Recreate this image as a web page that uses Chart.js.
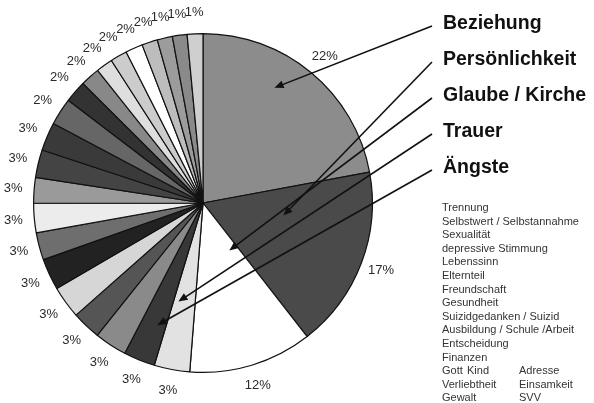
<!DOCTYPE html>
<html>
<head>
<meta charset="utf-8">
<script src="https://cdn.jsdelivr.net/npm/chart.js@4/dist/chart.umd.min.js"></script>
<style>
  body { margin: 0; background: #fff; }
  #wrap { position: relative; width: 594px; height: 403px; overflow: hidden; }
  #pie { position: absolute; left: 0; top: 0; }
  .big { position: absolute; left: 443px; font: bold 19.5px "Liberation Sans", Arial, sans-serif; color: #111; white-space: nowrap; line-height: 22px; }
  .small { position: absolute; left: 442px; font: 11px "Liberation Sans", Arial, sans-serif; color: #333; white-space: nowrap; line-height: 13px; }
  .small span { position: absolute; top: 0; }
</style>
</head>
<body>
<div id="wrap">
  <canvas id="pie" width="594" height="403"></canvas>
</div>
<script>
// data, clockwise from 12 o'clock
const categories = [
  "Beziehung", "Persönlichkeit", "Glaube / Kirche", "Trauer", "Ängste",
  "Trennung", "Selbstwert / Selbstannahme", "Sexualität", "depressive Stimmung",
  "Lebenssinn", "Elternteil", "Freundschaft", "Gesundheit", "Suizidgedanken / Suizid",
  "Ausbildung / Schule /Arbeit", "Entscheidung", "Finanzen", "Gott", "Kind",
  "Adresse", "Verliebtheit", "Einsamkeit", "Gewalt", "SVV"
];
// slice shares (%) as measured from the slice angles in the picture
const values = [22.1, 17.4, 11.8, 3.4, 3.0, 3.1, 2.75, 3.1, 3.0, 2.6, 2.8, 2.45, 2.65, 2.7, 2.6, 2.1, 1.85, 1.6, 1.6, 1.65, 1.5, 1.45, 1.4, 1.5];
// percentages as printed on the chart
const percentLabels = ["22%", "17%", "12%", "3%", "3%", "3%", "3%", "3%", "3%", "3%", "3%", "3%", "3%", "3%",
  "2%", "2%", "2%", "2%", "2%", "2%", "2%", "1%", "1%", "1%"];
const sliceColors = [
  "#8c8c8c", "#4a4a4a", "#ffffff", "#e2e2e2", "#383838",
  "#8a8a8a", "#555555", "#d6d6d6", "#222222", "#6e6e6e",
  "#ececec", "#9a9a9a", "#444444", "#3a3a3a", "#666666",
  "#333333", "#888888", "#dedede", "#cccccc", "#ffffff",
  "#bdbdbd", "#9c9c9c", "#8a8a8a", "#cfcfcf"
];

const wrap = document.getElementById("wrap");

// the five big labels with arrows
const callouts = [0, 1, 2, 3, 4];
const bigEls = callouts.map((idx, i) => {
  const d = document.createElement("div");
  d.className = "big";
  d.style.top = (11 + i * 36) + "px";
  d.textContent = categories[idx];
  wrap.appendChild(d);
  return d;
});
// where each arrow lands inside its slice: fraction along the arc, fraction of radius
const arrowTips = [[0.4, 0.8], [0.31, 0.48], [0.21, 0.32], [0.78, 0.6], [0.35, 0.77]];

// small legend list
const smallRows = [[5], [6], [7], [8], [9], [10], [11], [12], [13], [14], [15], [16], [17, 18, 19], [20, 21], [22, 23]];
smallRows.forEach((row, r) => {
  const d = document.createElement("div");
  d.className = "small";
  d.style.top = (201 + r * 13.6) + "px";
  const cols = row.length === 3 ? [0, 25, 77] : [0, 77];
  row.forEach((idx, c) => {
    const s = document.createElement("span");
    s.style.left = cols[c] + "px";
    s.textContent = categories[idx];
    d.appendChild(s);
  });
  wrap.appendChild(d);
});

const percentPlugin = {
  id: "percentLabels",
  afterDatasetsDraw(chart) {
    const ctx = chart.ctx;
    const meta = chart.getDatasetMeta(0);
    ctx.save();
    ctx.font = '13px "Liberation Sans", Arial, sans-serif';
    ctx.fillStyle = "#2a2a2a";
    ctx.textAlign = "center";
    ctx.textBaseline = "middle";
    meta.data.forEach((arc, i) => {
      const p = arc.getProps(["x", "y", "startAngle", "endAngle", "outerRadius"], true);
      const a = (p.startAngle + p.endAngle) / 2;
      const r = p.outerRadius + 21;
      ctx.fillText(percentLabels[i], p.x + Math.cos(a) * r, p.y + Math.sin(a) * r);
    });
    ctx.restore();
  }
};

const arrowPlugin = {
  id: "arrows",
  afterDraw(chart) {
    const ctx = chart.ctx;
    const meta = chart.getDatasetMeta(0);
    const wr = wrap.getBoundingClientRect();
    ctx.save();
    ctx.strokeStyle = "#111";
    ctx.fillStyle = "#111";
    ctx.lineWidth = 1.6;
    callouts.forEach((idx, i) => {
      const p = meta.data[idx].getProps(["x", "y", "startAngle", "endAngle", "outerRadius"], true);
      const a = p.startAngle + arrowTips[i][0] * (p.endAngle - p.startAngle);
      const tx = p.x + Math.cos(a) * p.outerRadius * arrowTips[i][1];
      const ty = p.y + Math.sin(a) * p.outerRadius * arrowTips[i][1];
      const br = bigEls[i].getBoundingClientRect();
      const sx = br.left - wr.left - 11;
      const sy = br.top - wr.top + br.height / 2 + 4;
      const ang = Math.atan2(ty - sy, tx - sx);
      ctx.beginPath();
      ctx.moveTo(sx, sy);
      ctx.lineTo(tx - Math.cos(ang) * 6, ty - Math.sin(ang) * 6);
      ctx.stroke();
      ctx.beginPath();
      ctx.moveTo(tx, ty);
      ctx.lineTo(tx - Math.cos(ang - 0.4) * 10, ty - Math.sin(ang - 0.4) * 10);
      ctx.lineTo(tx - Math.cos(ang + 0.4) * 10, ty - Math.sin(ang + 0.4) * 10);
      ctx.closePath();
      ctx.fill();
    });
    ctx.restore();
  }
};

new Chart(document.getElementById("pie"), {
  type: "pie",
  data: {
    labels: categories,
    datasets: [{
      data: values,
      backgroundColor: sliceColors,
      borderColor: "#111",
      borderWidth: 1.2
    }]
  },
  options: {
    responsive: false,
    devicePixelRatio: 1,
    animation: false,
    layout: { padding: { left: 33, top: 33, right: 221, bottom: 30 } },
    plugins: {
      legend: { display: false },
      tooltip: { enabled: false }
    }
  },
  plugins: [percentPlugin, arrowPlugin]
});
</script>
</body>
</html>
